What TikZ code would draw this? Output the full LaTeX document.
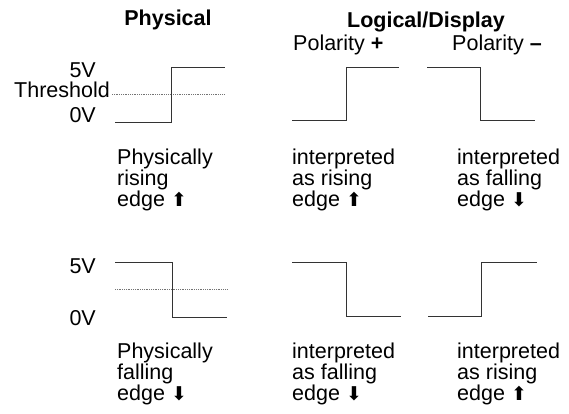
\documentclass[tikz,border=0pt]{standalone}
\usepackage{fontspec}
\setmainfont{Liberation Sans}
\newfontfamily\arrowfont{DejaVu Sans}
\usetikzlibrary{positioning}
\tikzstyle{heading}=[inner sep=0pt,anchor=base,font=\fontsize{21.5}{19}\selectfont\bfseries]
\tikzstyle{volt}=[inner sep=0pt,anchor=base east,font=\fontsize{21.5}{19}\selectfont]
\tikzstyle{polarity}=[inner sep=0pt,anchor=base west,font=\fontsize{21.5}{19}\selectfont]
\tikzstyle{edgetext}=[inner sep=0pt,anchor=north west,align=left,font=\fontsize{21.5}{19}\selectfont]
\tikzstyle{wave}=[line width=0.9pt,black!80]
\tikzstyle{thresh}=[line width=0.8pt,black!55,dash pattern=on 1pt off 0.8pt]
\newcommand{\uparr}{{\arrowfont\fontsize{19}{19}\selectfont ⬆}}
\newcommand{\downarr}{{\arrowfont\fontsize{19}{19}\selectfont ⬇}}

\begin{document}
\begin{tikzpicture}[x=1pt,y=-1pt]
\useasboundingbox (0,0) rectangle (569,413);

% headings
\node[heading] (physical) at (168,25) {Physical};
\node[heading] (logical) at (426,27) {Logical/Display};
\node[polarity] (pos) at (293,50) {Polarity \textbf{+}};
\node[polarity] (neg) at (452,50) {Polarity \textbf{--}};

% upper row: rising edge
\node[volt] (fivetop) at (96,77) {5V};
\node[volt] (thrtop) at (110,97) {Threshold};
\node[volt] (zerotop) at (96,122) {0V};
\draw[thresh] (112,94) -- (225,94);
\draw[wave] (115,122) -- (171,122) -- (171,67) -- (225,67);
\draw[wave] (292,120) -- (346,120) -- (346,67) -- (399,67);
\draw[wave] (427,67) -- (480,67) -- (480,120) -- (535,120);
\node[edgetext] (physrise) at (117,149) {Physically\\rising\\edge \uparr};
\node[edgetext] (posrise) at (292,149) {interpreted\\as rising\\edge \uparr};
\node[edgetext] (negrise) at (457,149) {interpreted\\as falling\\edge \downarr};

% lower row: falling edge
\node[volt] (fivebot) at (96,273) {5V};
\node[volt] (zerobot) at (96,325) {0V};
\draw[thresh] (115,289) -- (227,289);
\draw[wave] (115,262) -- (172,262) -- (172,317) -- (227,317);
\draw[wave] (292,262) -- (346,262) -- (346,316) -- (401,316);
\draw[wave] (428,316) -- (481,316) -- (481,262) -- (537,262);
\node[edgetext] (physfall) at (117,343) {Physically\\falling\\edge \downarr};
\node[edgetext] (posfall) at (292,343) {interpreted\\as falling\\edge \downarr};
\node[edgetext] (negfall) at (457,343) {interpreted\\as rising\\edge \uparr};
\end{tikzpicture}
\end{document}
